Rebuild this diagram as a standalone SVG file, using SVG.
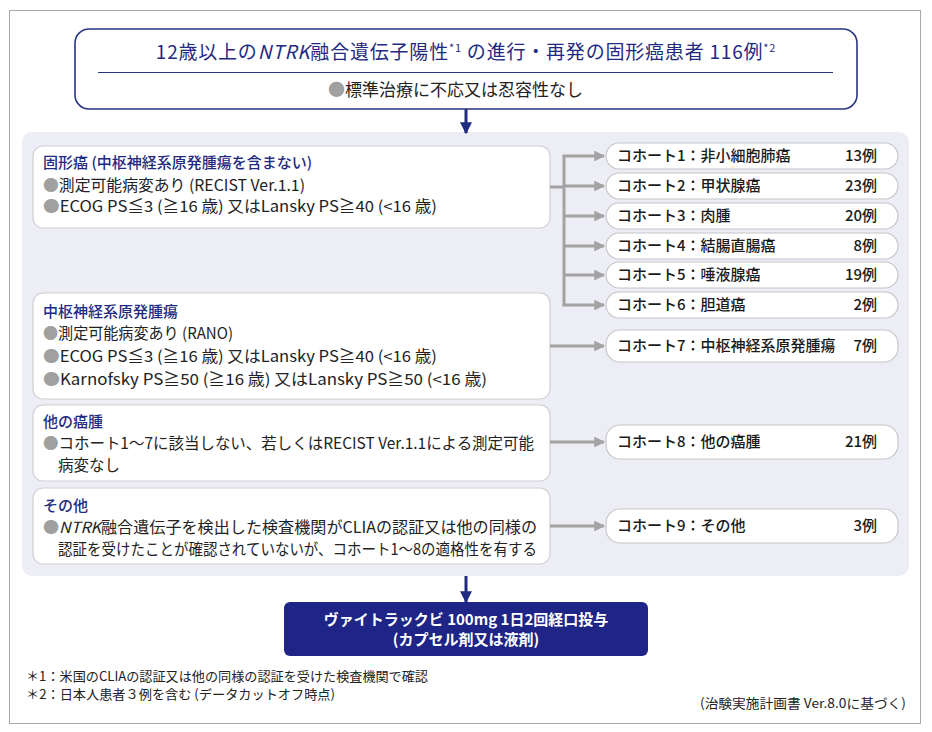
<svg xmlns="http://www.w3.org/2000/svg" width="932" height="732" viewBox="0 0 932 732">
<defs>
<style>
text{font-family:"Noto Sans CJK JP","Noto Sans",sans-serif;}
.navy{fill:#1f2a80;}
.body{fill:#222;font-size:15.5px;}
.ttl{fill:#1f2a80;font-size:15px;font-weight:500;}
.bul{fill:#a0a0a0;}
.box{fill:#fff;stroke:#cfcfd4;stroke-width:1.2;}
.cbox{fill:#fff;stroke:#c6c6cc;stroke-width:1.2;}
.ctext{fill:#1a1a1a;font-size:15px;font-weight:500;}
.gline{stroke:#a3a3a3;stroke-width:3;fill:none;}
.nline{stroke:#1f2a80;stroke-width:3;fill:none;}
.fn{fill:#222;font-size:13px;}
</style>
<marker id="ga" viewBox="0 0 10 10" refX="9" refY="5" markerWidth="3.6" markerHeight="3.6" markerUnits="strokeWidth" orient="auto">
<path d="M0,0 L10,5 L0,10 z" fill="#a3a3a3"/>
</marker>
<marker id="na" viewBox="0 0 10 10" refX="9" refY="5" markerWidth="4" markerHeight="4" markerUnits="strokeWidth" orient="auto">
<path d="M0,0 L10,5 L0,10 z" fill="#1f2a80"/>
</marker>
</defs>
<rect x="0" y="0" width="932" height="732" fill="#fff"/>
<rect x="9.5" y="10.5" width="911" height="713" fill="#fff" stroke="#a8a8a8" stroke-width="1"/>

<g id="panel">
<rect x="22" y="132" width="887" height="444" rx="10" fill="#ededf5"/>
</g>

<g id="top">
<rect x="75" y="29" width="782" height="80" rx="14" fill="#fff" stroke="#2a3580" stroke-width="1.6"/>
<text x="466" y="59" text-anchor="middle" class="navy" font-size="19" letter-spacing="0.8">12歳以上の<tspan font-style="italic">NTRK</tspan>融合遺伝子陽性<tspan font-size="11" dy="-7">*1</tspan><tspan dy="7"> の進行・再発の固形癌患者 116例</tspan><tspan font-size="11" dy="-7">*2</tspan></text>
<line x1="98" y1="72.5" x2="833" y2="72.5" stroke="#2a3580" stroke-width="1"/>
<text x="455.5" y="96" text-anchor="middle" fill="#222" font-size="17"><tspan class="bul">●</tspan>標準治療に不応又は忍容性なし</text>
</g>

<g id="c1grp">
<rect class="box" x="33" y="146" width="517" height="82" rx="10"/>
<text x="43" y="168" class="ttl">固形癌 (中枢神経系原発腫瘍を含まない)</text>
<text x="43" y="191" class="body" textLength="262" lengthAdjust="spacingAndGlyphs"><tspan class="bul">●</tspan>測定可能病変あり (RECIST Ver.1.1)</text>
<text x="43" y="212" class="body" textLength="394" lengthAdjust="spacingAndGlyphs"><tspan class="bul">●</tspan>ECOG PS≦3 (≧16 歳) 又はLansky PS≧40 (&lt;16 歳)</text>
</g>

<g id="cns">
<rect class="box" x="33" y="293" width="517" height="106" rx="10"/>
<text x="43" y="317" class="ttl">中枢神経系原発腫瘍</text>
<text x="43" y="339" class="body" textLength="190" lengthAdjust="spacingAndGlyphs"><tspan class="bul">●</tspan>測定可能病変あり (RANO)</text>
<text x="43" y="362" class="body" textLength="394" lengthAdjust="spacingAndGlyphs"><tspan class="bul">●</tspan>ECOG PS≦3 (≧16 歳) 又はLansky PS≧40 (&lt;16 歳)</text>
<text x="43" y="385" class="body" textLength="444" lengthAdjust="spacingAndGlyphs"><tspan class="bul">●</tspan>Karnofsky PS≧50 (≧16 歳) 又はLansky PS≧50 (&lt;16 歳)</text>
</g>

<g id="other">
<rect class="box" x="33" y="405" width="517" height="76" rx="10"/>
<text x="43" y="427" class="ttl">他の癌腫</text>
<text x="43" y="449" class="body" textLength="491" lengthAdjust="spacingAndGlyphs"><tspan class="bul">●</tspan>コホート1～7に該当しない、若しくはRECIST Ver.1.1による測定可能</text>
<text x="58" y="471" class="body">病変なし</text>
</g>

<g id="misc">
<rect class="box" x="33" y="488" width="517" height="76" rx="10"/>
<text x="43" y="511" class="ttl">その他</text>
<text x="43" y="533" class="body" textLength="494" lengthAdjust="spacingAndGlyphs"><tspan class="bul">●</tspan><tspan font-style="italic">NTRK</tspan>融合遺伝子を検出した検査機関がCLIAの認証又は他の同様の</text>
<text x="58" y="555" class="body" textLength="479" lengthAdjust="spacingAndGlyphs">認証を受けたことが確認されていないが、コホート1～8の適格性を有する</text>
</g>

<g id="cohorts">
<g id="k1"><rect class="cbox" x="606" y="143" width="292" height="26" rx="13"/><text x="617" y="161" class="ctext">コホート1：非小細胞肺癌</text><text x="877" y="161" class="ctext" text-anchor="end">13例</text></g>
<g id="k2"><rect class="cbox" x="606" y="173" width="292" height="26" rx="13"/><text x="617" y="191" class="ctext">コホート2：甲状腺癌</text><text x="877" y="191" class="ctext" text-anchor="end">23例</text></g>
<g id="k3"><rect class="cbox" x="606" y="203" width="292" height="26" rx="13"/><text x="617" y="221" class="ctext">コホート3：肉腫</text><text x="877" y="221" class="ctext" text-anchor="end">20例</text></g>
<g id="k4"><rect class="cbox" x="606" y="233" width="292" height="26" rx="13"/><text x="617" y="251" class="ctext">コホート4：結腸直腸癌</text><text x="877" y="251" class="ctext" text-anchor="end">8例</text></g>
<g id="k5"><rect class="cbox" x="606" y="262" width="292" height="26" rx="13"/><text x="617" y="280" class="ctext">コホート5：唾液腺癌</text><text x="877" y="280" class="ctext" text-anchor="end">19例</text></g>
<g id="k6"><rect class="cbox" x="606" y="292" width="292" height="26" rx="13"/><text x="617" y="310" class="ctext">コホート6：胆道癌</text><text x="877" y="310" class="ctext" text-anchor="end">2例</text></g>
<g id="k7"><rect class="cbox" x="606" y="330" width="292" height="32" rx="14"/><text x="617" y="351" class="ctext">コホート7：中枢神経系原発腫瘍</text><text x="877" y="351" class="ctext" text-anchor="end">7例</text></g>
<g id="k8"><rect class="cbox" x="606" y="425" width="292" height="34" rx="14"/><text x="617" y="447" class="ctext">コホート8：他の癌腫</text><text x="877" y="447" class="ctext" text-anchor="end">21例</text></g>
<g id="k9"><rect class="cbox" x="606" y="509" width="292" height="34" rx="14"/><text x="617" y="531" class="ctext">コホート9：その他</text><text x="877" y="531" class="ctext" text-anchor="end">3例</text></g>
</g>

<g id="drug">
<rect x="284" y="602" width="364" height="54" rx="6" fill="#1e2586"/>
<text x="466" y="625" text-anchor="middle" fill="#fff" font-size="15" font-weight="bold">ヴァイトラックビ 100mg 1日2回経口投与</text>
<text x="466" y="645" text-anchor="middle" fill="#fff" font-size="15" font-weight="bold">(カプセル剤又は液剤)</text>
</g>

<g id="connectors">
<line class="nline" x1="466" y1="109" x2="466" y2="133" marker-end="url(#na)"/>
<line class="nline" x1="466" y1="576" x2="466" y2="602" marker-end="url(#na)"/>
<line class="gline" x1="550" y1="187" x2="564" y2="187"/>
<line class="gline" x1="564" y1="155.5" x2="564" y2="305.5"/>
<line class="gline" x1="562.5" y1="156" x2="604" y2="156" marker-end="url(#ga)"/>
<line class="gline" x1="564" y1="186" x2="604" y2="186" marker-end="url(#ga)"/>
<line class="gline" x1="564" y1="216" x2="604" y2="216" marker-end="url(#ga)"/>
<line class="gline" x1="564" y1="246" x2="604" y2="246" marker-end="url(#ga)"/>
<line class="gline" x1="564" y1="275" x2="604" y2="275" marker-end="url(#ga)"/>
<line class="gline" x1="562.5" y1="305" x2="604" y2="305" marker-end="url(#ga)"/>
<line class="gline" x1="550" y1="346" x2="604" y2="346" marker-end="url(#ga)"/>
<line class="gline" x1="550" y1="442" x2="604" y2="442" marker-end="url(#ga)"/>
<line class="gline" x1="550" y1="526" x2="604" y2="526" marker-end="url(#ga)"/>
</g>

<g id="notes">
<text x="26" y="681" class="fn" textLength="402" lengthAdjust="spacingAndGlyphs">＊1：米国のCLIAの認証又は他の同様の認証を受けた検査機関で確認</text>
<text x="26" y="699" class="fn" textLength="309" lengthAdjust="spacingAndGlyphs">＊2：日本人患者３例を含む (データカットオフ時点)</text>
<text x="906" y="708" class="fn" text-anchor="end" textLength="206" lengthAdjust="spacingAndGlyphs">(治験実施計画書 Ver.8.0に基づく)</text>
</g>
</svg>
